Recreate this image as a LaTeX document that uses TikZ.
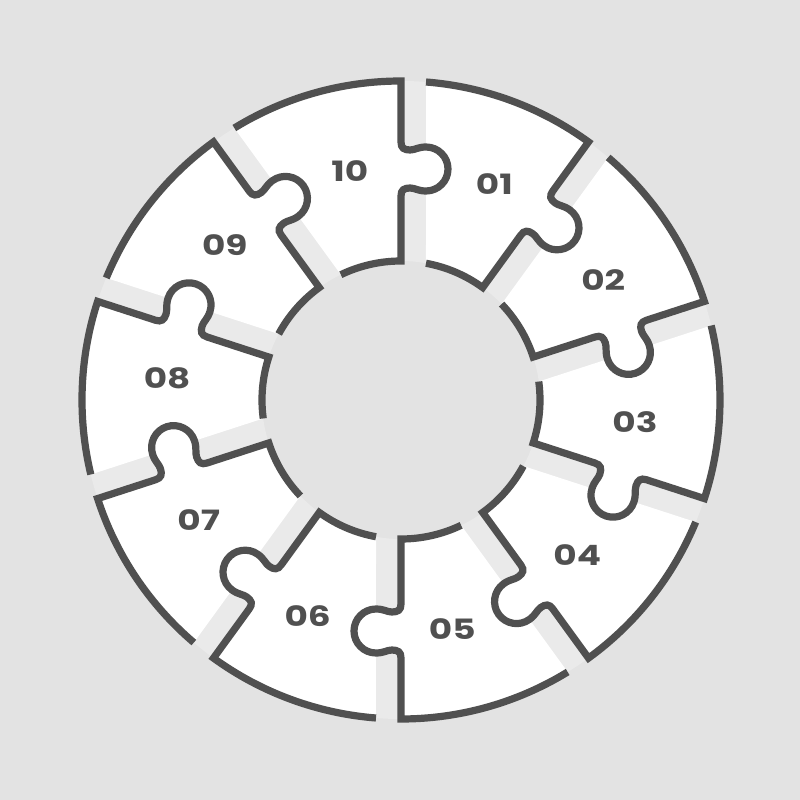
\documentclass[tikz,border=0pt]{standalone}
\usepackage{fontspec}
\newfontfamily\labelfont{Poppins}
\definecolor{bgc}{HTML}{E3E3E3}
\definecolor{ringc}{HTML}{EAEAEA}
\definecolor{inkc}{HTML}{505050}
\tikzset{
  edgeline/.style={draw=inkc, line width=7.2pt, line join=miter, line cap=butt},
  piecefill/.style={fill=white},
  lbl/.style={text=inkc, font=\labelfont\bfseries\fontsize{28}{28}\selectfont, xscale=1.28, inner sep=0pt, anchor=center}
}
\def\pieceopen{(121.5:319pt) arc[start angle=121.5, end angle=90, radius=319pt]
  -- (0,258) .. controls (0,252) and (3,250) .. (9,250)
  .. controls (14,250) and (17,253) .. (25,253)
  arc[start angle=90, end angle=-90, radius=22pt]
  .. controls (17,209) and (14,212) .. (9,212)
  .. controls (3,212) and (0,210) .. (0,204)
  -- (0,139) arc[start angle=90, end angle=115.64, radius=139pt]}
\begin{document}
\begin{tikzpicture}[x=1pt,y=1pt]
  \fill[bgc] (-401,-400) rectangle (399,400);
  \useasboundingbox (-401,-400) rectangle (399,400);
  \fill[ringc, even odd rule] (0,0) circle[radius=319pt] (0,0) circle[radius=139pt];
  \foreach \j in {0,...,9}{
    \begin{scope}[rotate=-36*\j]
      \path[piecefill] \pieceopen -- cycle;
    \end{scope}
  }
  \foreach \j in {0,...,9}{
    \begin{scope}[rotate=-36*\j]
      \path[edgeline] \pieceopen;
    \end{scope}
  }
  \foreach \j/\t in {0/10,1/01,2/02,3/03,4/04,5/05,6/06,7/07,8/08,9/09}{
    \node[lbl] (l\j) at ({102.6-36*\j}:235pt) {\t};
  }
\end{tikzpicture}
\end{document}
